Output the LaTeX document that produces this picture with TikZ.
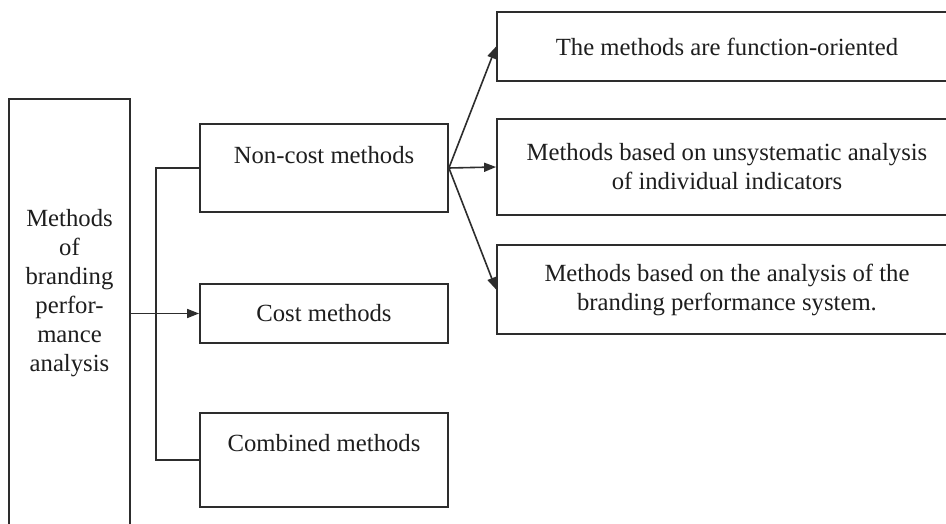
\documentclass[tikz,border=0pt]{standalone}
\usepackage{fontspec}
\setmainfont{Liberation Serif}
\usetikzlibrary{arrows.meta}
\definecolor{lineclr}{RGB}{45,45,45}
\definecolor{txtclr}{RGB}{30,30,30}
\newcommand{\boxfont}{\fontsize{24.7}{29}\selectfont}
\tikzset{
  boxln/.style={draw=lineclr, line width=1.8pt, inner sep=0pt, align=center, font=\boxfont, text=txtclr},
  midbox/.style={boxln, minimum width=248pt},
  rightbox/.style={boxln, minimum width=460pt},
  boxtxt/.style={font=\boxfont, text=txtclr, align=center, inner sep=0pt},
  connln/.style={draw=lineclr, line width=1.6pt},
  arrowln/.style={connln, -{Triangle[length=12pt,width=9pt]}},
}

\begin{document}
\begin{tikzpicture}[x=1pt, y=-1pt]
    \clip (0,0) rectangle (946,524);
    \fill[white] (0,0) rectangle (946,524);
    % left box, runs past the bottom edge
    \node[boxln, minimum width=121pt, minimum height=461pt,
      label={[boxtxt, yshift=36.5pt]center:{Methods\\of\\branding\\perfor-\\mance\\analysis}}]
      (brand) at (69.5,329.5) {};
    % middle column
    \node[midbox, minimum height=88pt,
      label={[boxtxt, yshift=13pt]center:Non-cost methods}] (noncost) at (324,168) {};
    \node[midbox, minimum height=59pt] (cost) at (324,313.5) {Cost methods};
    \node[midbox, minimum height=94pt,
      label={[boxtxt, yshift=17pt]center:Combined methods}] (combined) at (324,460) {};
    % right column, runs past the right edge
    \node[rightbox, minimum height=69pt] (funcor) at (727,46.5)
      {The methods are function-oriented};
    \node[rightbox, minimum height=96pt] (unsys) at (727,167)
      {Methods based on unsystematic analysis\\of individual indicators};
    \node[rightbox, minimum height=89pt] (sysan) at (727,289.5)
      {Methods based on the analysis of the\\branding performance system.};
    % connectors
    \draw[arrowln] (brand.east |- cost.west) -- (cost.west);
    \draw[connln] (noncost.west) -- ++(-43,0) |- (combined.west);
    \foreach \t in {funcor,unsys,sysan}
      \draw[arrowln] (noncost.east) -- (\t.west);
\end{tikzpicture}
\end{document}
